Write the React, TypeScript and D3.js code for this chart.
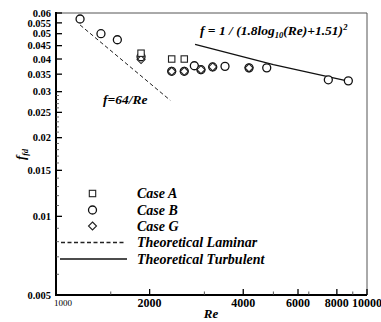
import React from "react";
import * as d3 from "d3";

const caseARe = [1877, 2355, 2585];
const caseAF = [0.0421, 0.04, 0.04];

const caseBRe = [1195, 1395, 1575, 1877, 2355, 2585, 2785, 2925, 3190, 3495, 4175, 4760, 7510, 8710];
const caseBF = [0.0569, 0.05, 0.0474, 0.0408, 0.0359, 0.0359, 0.0377, 0.0364, 0.0373, 0.0375, 0.037, 0.037, 0.0333, 0.033];

const caseGRe = [1877, 2355, 2585, 2925, 3190, 4175];
const caseGF = [0.0398, 0.0359, 0.0359, 0.0364, 0.0373, 0.037];

// theory curves, points
const laminarRe = [1195, 2330];
const laminarF = [0.054, 0.0278];
const turbRe = [2800, 5000, 8700];
const turbF = [0.0455, 0.0381, 0.0329];

const xMajor = [1000, 2000, 4000, 6000, 8000, 10000];
const xMinor = [1500, 3000, 5000, 6500, 9000];
const yMajor = [0.005, 0.01, 0.015, 0.02, 0.025, 0.03, 0.035, 0.04, 0.045, 0.05, 0.055, 0.06];
const yLabels = ["0.005", "0.01", "0.015", "0.02", "0.025", "0.03", "0.035", "0.04", "0.045", "0.05", "0.055", "0.06"];
const yMinor = [0.006, 0.007, 0.008, 0.009, 0.011, 0.012, 0.013, 0.014, 0.016, 0.017, 0.018, 0.019, 0.021, 0.022, 0.023, 0.024, 0.026, 0.027, 0.028, 0.029];

const legendItems = ["Case A", "Case B", "Case G", "Theoretical Laminar", "Theoretical Turbulent"];

const W = 381;
const H = 322;
const L = 56, R = 367, T = 13, B = 295;
const serif = '"Liberation Serif", "DejaVu Serif", serif';

function Square({ cx, cy }: { cx: number; cy: number }) {
  return <rect x={cx - 3.2} y={cy - 3.2} width={6.4} height={6.4} fill="white" stroke="#222" strokeWidth={1.1} />;
}
function Circle({ cx, cy }: { cx: number; cy: number }) {
  return <circle cx={cx} cy={cy} r={4} fill="white" stroke="#111" strokeWidth={1.3} />;
}
function Diamond({ cx, cy }: { cx: number; cy: number }) {
  const s = 4;
  return (
    <path
      d={`M${cx},${cy - s}L${cx + s},${cy}L${cx},${cy + s}L${cx - s},${cy}Z`}
      fill="none"
      stroke="#222"
      strokeWidth={1.1}
    />
  );
}

export default function App() {
  const x = d3.scaleLog().domain([1000, 10000]).range([L, R]);
  const y = d3.scaleLog().domain([0.005, 0.06]).range([B, T]);

  const line = d3
    .line<[number, number]>()
    .x((d) => x(d[0]))
    .y((d) => y(d[1]));

  const lam = line(laminarRe.map((r, i) => [r, laminarF[i]]) as [number, number][]) || "";
  const turb = line(turbRe.map((r, i) => [r, turbF[i]]) as [number, number][]) || "";

  const legY = [193.5, 210, 226, 242.5, 259];

  return (
    <svg width={W} height={H} style={{ position: "absolute", left: 0, top: 0, background: "white", fontFamily: serif }}>
      {/* frame */}
      <line x1={L} x2={R} y1={T} y2={T} stroke="#555" strokeWidth={1} />
      <line x1={R} x2={R} y1={T} y2={B} stroke="#555" strokeWidth={1} />
      <line x1={L} x2={L} y1={T - 1} y2={B + 1} stroke="black" strokeWidth={2} />
      <line x1={L - 1} x2={R} y1={B} y2={B} stroke="black" strokeWidth={2} />

      {/* y ticks */}
      {yMajor.map((v, i) => (
        <g key={"ym" + i}>
          <line x1={L} x2={L + 6} y1={y(v)} y2={y(v)} stroke="black" strokeWidth={1.3} />
          <text x={51} y={y(v)} dy="0.35em" textAnchor="end" fontSize={10.5} fontWeight="bold">
            {yLabels[i]}
          </text>
        </g>
      ))}
      {yMinor.map((v, i) => (
        <line key={"yn" + i} x1={L} x2={L + 3} y1={y(v)} y2={y(v)} stroke="#444" strokeWidth={0.8} />
      ))}

      {/* x ticks */}
      {xMajor.map((v, i) => (
        <g key={"xm" + i}>
          <line x1={x(v)} x2={x(v)} y1={B} y2={B - 6} stroke="black" strokeWidth={1.3} />
          {i === 0 ? (
            <text x={x(v) + 7} y={306} textAnchor="middle" fontSize={9}>
              {v}
            </text>
          ) : (
            <text x={x(v)} y={307} textAnchor="middle" fontSize={12} fontWeight="bold">
              {v}
            </text>
          )}
        </g>
      ))}
      {xMinor.map((v, i) => (
        <line key={"xn" + i} x1={x(v)} x2={x(v)} y1={B} y2={B - 3.5} stroke="#444" strokeWidth={0.9} />
      ))}

      {/* axis titles */}
      <text x={211} y={318} textAnchor="middle" fontSize={13} fontWeight="bold" fontStyle="italic">
        Re
      </text>
      <text transform="translate(25,160) rotate(-90)" fontSize={13} fontWeight="bold" fontStyle="italic">
        f
        <tspan fontSize={8} dy={3}>fd</tspan>
      </text>

      {/* theory lines */}
      <path d={lam} fill="none" stroke="#222" strokeWidth={1} strokeDasharray="4,2.5" />
      <path d={turb} fill="none" stroke="#111" strokeWidth={1.3} />

      {/* data */}
      {caseBRe.map((r, i) => (
        <Circle key={"b" + i} cx={x(r)} cy={y(caseBF[i])} />
      ))}
      {caseGRe.map((r, i) => (
        <Diamond key={"g" + i} cx={x(r)} cy={y(caseGF[i])} />
      ))}
      {caseARe.map((r, i) => (
        <Square key={"a" + i} cx={x(r)} cy={y(caseAF[i])} />
      ))}

      {/* annotations */}
      <text x={103} y={104} fontSize={13.5} fontWeight="bold" fontStyle="italic">
        f=64/Re
      </text>
      <text x={200} y={35} fontSize={13.5} fontWeight="bold" fontStyle="italic">
        f = 1 / (1.8log
        <tspan fontSize={8.5} dy={3}>10</tspan>
        <tspan dy={-3}>(Re)+1.51)</tspan>
        <tspan fontSize={8.5} dy={-5}>2</tspan>
      </text>

      {/* legend */}
      <Square cx={92.5} cy={legY[0]} />
      <Circle cx={92.5} cy={legY[1]} />
      <Diamond cx={92.5} cy={legY[2]} />
      <line x1={61} x2={126} y1={legY[3]} y2={legY[3]} stroke="#222" strokeWidth={1.3} strokeDasharray="4,2.5" />
      <line x1={60} x2={127} y1={legY[4]} y2={legY[4]} stroke="#111" strokeWidth={1.6} />
      {legendItems.map((t, i) => (
        <text key={t} x={137} y={legY[i]} dy="0.35em" fontSize={14} fontWeight="bold" fontStyle="italic">
          {t}
        </text>
      ))}
    </svg>
  );
}
